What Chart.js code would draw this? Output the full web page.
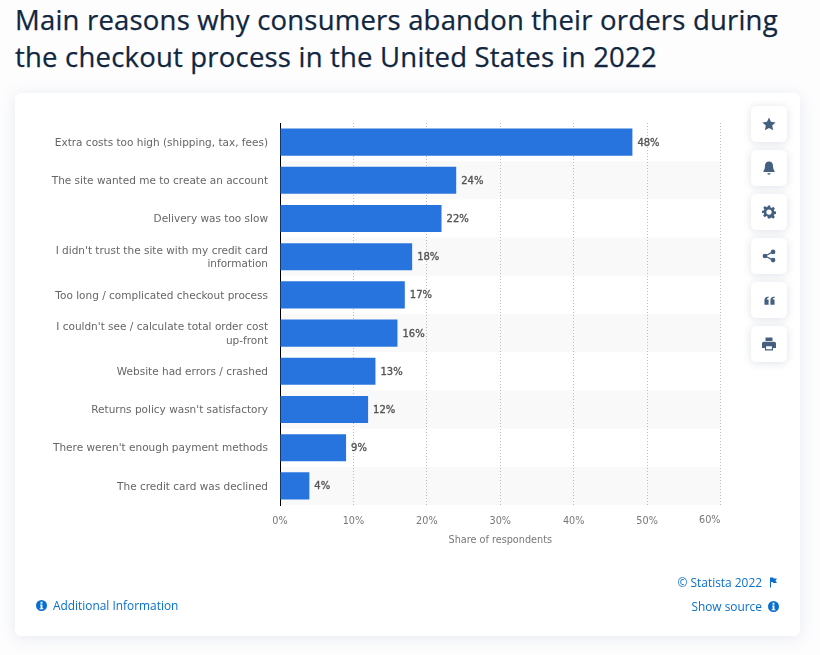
<!DOCTYPE html>
<html>
<head>
<meta charset="utf-8">
<title>Checkout abandonment</title>
<script src="https://cdn.jsdelivr.net/npm/chart.js@4/dist/chart.umd.min.js"></script>
<style>
  html, body { margin: 0; padding: 0; background: #fdfdfe; overflow: hidden; }
  body { width: 820px; height: 655px; position: relative; font-family: "Open Sans", sans-serif; }
  h1 {
    position: absolute; left: 15px; top: 1px; margin: 0; width: 790px;
    font: 500 27.5px/37px "Open Sans", sans-serif; color: #11263f;
    letter-spacing: .2px; -webkit-text-stroke: .25px #11263f;
  }
  .card {
    position: absolute; left: 15px; top: 93px; width: 785px; height: 543px;
    background: #fff; border-radius: 6px; box-shadow: 0 2px 16px rgba(70, 90, 130, .12);
  }
  canvas { position: absolute; left: 0; top: 0; }
  .btn {
    position: absolute; left: 751px; width: 36px; height: 36px; background: #fff;
    border-radius: 5px; box-shadow: 0 1px 8px rgba(70, 90, 130, .18);
    display: flex; align-items: center; justify-content: center;
  }
  .btn svg { width: 14px; height: 14px; fill: #45607f; }
  .link { position: absolute; font-size: 11.9px; line-height: 16px; color: #0770cf; white-space: nowrap; }
  .link svg { width: 11px; height: 11px; fill: #0770cf; vertical-align: -1px; }
</style>
</head>
<body>
<h1>Main reasons why consumers abandon their orders during the checkout process in the United States in 2022</h1>
<div class="card"></div>
<canvas id="chartReasons" width="820" height="655"></canvas>

<div class="btn" style="top:106px"><svg viewBox="0 0 24 24"><path d="M12 1l3.400 7.300 7.900 1-5.800 5.400 1.500 7.900-7-3.900-7 3.900 1.500-7.900L.7 9.300l7.900-1z"/></svg></div>
<div class="btn" style="top:150px"><svg viewBox="0 0 24 24"><path d="M12 1c-4.500 0-7 3.500-7 8 0 4-1 6-2.500 8v2h19v-2c-1.500-2-2.500-4-2.500-8 0-4.500-2.500-8-7-8zM9 21h6c0 1.500-1.300 2.500-3 2.500S9 22.500 9 21z"/></svg></div>
<div class="btn" style="top:194px"><svg viewBox="0 0 24 24"><path fill-rule="evenodd" d="M10 1h4l.6 3.200 2 .8 2.700-1.800 2.800 2.800-1.800 2.700.8 2 3.200.6v4l-3.200.6-.8 2 1.800 2.700-2.800 2.800-2.700-1.800-2 .8L14 23h-4l-.6-3.200-2-.8-2.700 1.800-2.800-2.800 1.800-2.700-.8-2L0 14v-4l3.200-.6.8-2L2.200 4.700 5 1.900l2.700 1.800 2-.8zM12 7.500a4.500 4.500 0 1 0 0 9 4.500 4.500 0 0 0 0-9z"/></svg></div>
<div class="btn" style="top:238px"><svg viewBox="0 0 24 24"><circle cx="19" cy="5" r="4"/><circle cx="19" cy="19" r="4"/><circle cx="5" cy="12" r="4"/><path d="M5 11l13-7 1 2-13 7zM6 11l13 7-1 2-13-7z"/></svg></div>
<div class="btn" style="top:282px"><svg viewBox="0 0 24 24" style="width:11px;height:11px"><path d="M1 21V11c0-4 2-7 9-8v3c-3 .5-4 2-4 4h4v11zM14 21V11c0-4 2-7 9-8v3c-3 .5-4 2-4 4h4v11z"/></svg></div>
<div class="btn" style="top:326px"><svg viewBox="0 0 24 24"><path fill-rule="evenodd" d="M6 1h12v6H6zM3 8h18a3 3 0 0 1 3 3v8h-5v4H5v-4H0v-8a3 3 0 0 1 3-3zM7 16v5h10v-5z"/></svg></div>

<div class="link" style="left:36px;top:596.500px"><svg viewBox="0 0 24 24"><path fill-rule="evenodd" d="M12 0a12 12 0 1 0 0 24 12 12 0 0 0 0-24zM10 4h4v4h-4zM9 10h5v8h2v2H8v-2h2v-6H9z"/></svg><span style="margin-left:6px">Additional Information</span></div>
<div class="link" style="right:58px;top:574px">© Statista 2022</div>
<svg style="position:absolute;left:769px;top:577px;width:9px;height:11px;fill:#0770cf" viewBox="0 0 18 22"><path d="M2 1h7v2h7l-3 4.500 3 4.500H8v-2H4v11H2z"/></svg>
<div class="link" style="right:58px;top:598px">Show source</div>
<svg style="position:absolute;left:768px;top:601px;width:11px;height:11px;fill:#0770cf" viewBox="0 0 24 24"><path fill-rule="evenodd" d="M12 0a12 12 0 1 0 0 24 12 12 0 0 0 0-24zM10 4h4v4h-4zM9 10h5v8h2v2H8v-2h2v-6H9z"/></svg>

<script>
const reasons = [
  'Extra costs too high (shipping, tax, fees)',
  'The site wanted me to create an account',
  'Delivery was too slow',
  ["I didn't trust the site with my credit card", 'information'],
  'Too long / complicated checkout process',
  ["I couldn't see / calculate total order cost", 'up-front'],
  'Website had errors / crashed',
  "Returns policy wasn't satisfactory",
  "There weren't enough payment methods",
  'The credit card was declined'
];
const shares = [48, 24, 22, 18, 17, 16, 13, 12, 9, 4];
const axisTicks = [0, 10, 20, 30, 40, 50, 60];
const axisTitle = 'Share of respondents';

// stripes behind every second row
const rowStripes = {
  id: 'rowStripes',
  beforeDraw(chart) {
    const { ctx, chartArea, scales } = chart;
    const rowH = chartArea.height / reasons.length;
    ctx.save();
    ctx.fillStyle = '#f9f9f9';
    reasons.forEach((r, i) => {
      if (i % 2 == 1) {
        ctx.fillRect(chartArea.left, scales.y.getPixelForValue(i) - rowH / 2, chartArea.width, rowH);
      }
    });
    ctx.restore();
  }
};

// value labels, and the last tick label which sits left of its gridline
const valueLabels = {
  id: 'valueLabels',
  afterDatasetsDraw(chart) {
    const { ctx, scales } = chart;
    ctx.save();
    ctx.font = '10px "DejaVu Sans", sans-serif';
    ctx.fillStyle = '#555';
    ctx.strokeStyle = '#555';
    ctx.lineWidth = 0.35;
    ctx.textAlign = 'left';
    ctx.textBaseline = 'middle';
    shares.forEach((v, i) => {
      const px = scales.x.getPixelForValue(v) + 5;
      const py = scales.y.getPixelForValue(i) + 1;
      ctx.fillText(v + '%', px, py);
      ctx.strokeText(v + '%', px, py);
    });
    const last = axisTicks[axisTicks.length - 1];
    ctx.font = '9.7px "DejaVu Sans", sans-serif';
    ctx.fillStyle = '#777';
    ctx.textAlign = 'right';
    ctx.fillText(last + '%', scales.x.getPixelForValue(last), 520.5);
    ctx.restore();
  }
};

new Chart(document.getElementById('chartReasons'), {
  type: 'bar',
  data: {
    labels: reasons,
    datasets: [{
      data: shares,
      backgroundColor: '#2874de',
      barPercentage: 0.71,
      categoryPercentage: 1
    }]
  },
  plugins: [rowStripes, valueLabels],
  options: {
    indexAxis: 'y',
    responsive: false,
    animation: false,
    layout: { padding: { top: 123, right: 99.5, bottom: 109, left: 0 } },
    plugins: { legend: { display: false }, tooltip: { enabled: false } },
    scales: {
      x: {
        min: 0,
        max: 60,
        afterBuildTicks(scale) {
          scale.ticks = axisTicks.map(v => ({ value: v }));
        },
        afterFit(scale) { scale.height = 41; },
        border: { display: false, dash: [1, 2] },
        grid: { color: '#bbb', lineWidth: 1, tickLength: 0, drawTicks: false },
        ticks: {
          maxRotation: 0,
          autoSkip: false,
          padding: 11,
          color: '#777',
          font: { family: 'DejaVu Sans', size: 9.7 },
          callback: v => (v == 60 ? '' : v + '%')
        },
        title: {
          display: true,
          text: axisTitle,
          color: '#777',
          font: { family: 'DejaVu Sans', size: 9.7 },
          padding: { top: 6, bottom: 0 }
        }
      },
      y: {
        afterFit(scale) { scale.width = 280; },
        border: { color: '#000', width: 1 },
        grid: { display: false, drawTicks: false, tickLength: 0 },
        ticks: {
          padding: 12,
          labelOffset: 1,
          color: '#666',
          autoSkip: false,
          font: { family: 'DejaVu Sans', size: 10.5, lineHeight: 1.32 }
        }
      }
    }
  }
});
</script>
</body>
</html>
